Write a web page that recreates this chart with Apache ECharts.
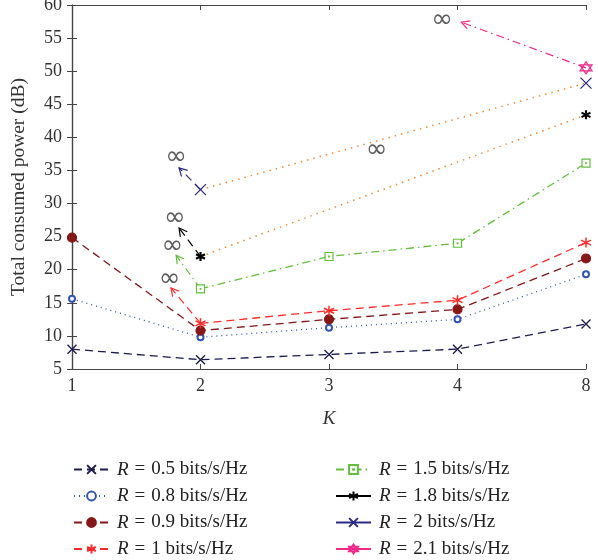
<!DOCTYPE html>
<html>
<head>
<meta charset="utf-8">
<script src="https://cdn.jsdelivr.net/npm/echarts@6/dist/echarts.min.js"></script>
<style>
  html, body { margin: 0; padding: 0; background: #fff; }
  #chart { width: 598px; height: 560px; }
</style>
</head>
<body>
<div id="chart"></div>
<script>
// K values on the x axis (drawn at equal spacing)
const kLabels = ['1', '2', '3', '4', '8'];
const yTicks = [5, 10, 15, 20, 25, 30, 35, 40, 45, 50, 55, 60];

// consumed power per rate, one entry per K (null = infeasible / not drawn)
const rateNames = ['0.5', '0.8', '0.9', '1', '1.5', '1.8', '2', '2.1'];
const r05 = [8.0, 6.4, 7.2, 8.0, 11.8];
const r08 = [15.6, 9.8, 11.25, 12.5, 19.3];
const r09 = [24.85, 10.8, 12.5, 14.0, 21.7];
const r10 = [null, 11.9, 13.8, 15.4, 24.1];
const r15 = [null, 17.1, 22.0, 24.0, 36.1];
const r18 = [null, 22.0, null, null, 43.4];
const r20 = [null, 32.1, null, null, 48.2];
const r21 = [null, null, null, null, 50.5];

// arrows towards "infinite" power: [fromK, fromVal, toK, toVal, series]
const arrows = [
  [1, 32.1, 0.833, 35.4, 6],
  [1, 22.0, 0.833, 26.3, 5],
  [1, 17.1, 0.81, 22.2, 4],
  [1, 11.9, 0.77, 17.25, 3],
  [4, 50.5, 3.03, 57.4, 7]
];
// where the infinity marks sit
const infMarks = [[0.81, 37.0], [0.80, 27.8], [0.78, 23.6], [0.76, 18.6], [2.88, 57.7], [2.37, 38.0]];

const colors = ['#1c1c50', '#3153b5', '#851717', '#ff2a2a', '#63be3c', '#000000', '#2a2a86', '#ef2a8a'];
const orange = '#f28a2e';
const serif = '"Liberation Serif", "DejaVu Serif", serif';

const xMark = 'path://M0,0L10,10M0,10L10,0';
const starMark = 'path://M5,0L5,10M0.7,2.5L9.3,7.5M0.7,7.5L9.3,2.5';
const davidMark = 'path://M5,0L9.33,7.5L0.67,7.5ZM5,10L0.67,2.5L9.33,2.5Z';
const squareMark = 'path://M0,0L10,0L10,10L0,10ZM4.6,4.6L5.4,4.6L5.4,5.4L4.6,5.4Z';

const dashes = {
  dash: [8, 5],
  dot: [1, 4],
  dashdot: [8, 4, 1.5, 4]
};

function pairs(vals) {
  return vals.map((v, i) => [i, v == null ? '-' : v]);
}

function makeSeries(idx, vals, symbol, size, lineType, fill, width) {
  const c = colors[idx];
  return {
    name: rateNames[idx],
    type: 'line',
    data: pairs(vals),
    symbol: symbol,
    symbolSize: size,
    showSymbol: true,
    connectNulls: false,
    animation: false,
    z: 5,
    lineStyle: { color: c, width: 1.3, type: lineType },
    itemStyle: {
      color: fill,
      borderColor: c,
      borderWidth: width || 1.2
    }
  };
}

const clear = 'rgba(255,255,255,0)';
const lineSeries = [
  makeSeries(0, r05, xMark, 9, dashes.dash, clear, 1.4),
  makeSeries(1, r08, 'emptyCircle', 6, dashes.dot, colors[1], 1.3),
  makeSeries(2, r09, 'circle', 9, dashes.dash, colors[2]),
  makeSeries(3, r10, starMark, 10, dashes.dash, clear, 1.5),
  makeSeries(4, r15, squareMark, 8, dashes.dashdot, '#fff', 1.2),
  makeSeries(5, r18, starMark, 9, 'solid', clear, 2.2),
  makeSeries(6, r20, xMark, 11, 'solid', clear, 1.3),
  makeSeries(7, r21, davidMark, 12, 'solid', clear, 1.2)
];

// orange dotted links between the K=2 and K=8 points of R = 1.8 and R = 2
function orangeLink(vals) {
  return {
    type: 'line',
    data: pairs(vals).filter(p => p[1] !== '-'),
    symbol: 'none',
    silent: true,
    animation: false,
    z: 3,
    lineStyle: { color: orange, width: 1.5, type: [1.5, 5] }
  };
}

const arrowDash = [dashes.dash, dashes.dash, dashes.dash, dashes.dash, dashes.dashdot, dashes.dash, dashes.dash, dashes.dashdot];

const arrowSeries = {
  type: 'custom',
  data: arrows,
  silent: true,
  animation: false,
  clip: false,
  z: 4,
  renderItem: function (params, api) {
    const p0 = api.coord([api.value(0), api.value(1)]);
    const p1 = api.coord([api.value(2), api.value(3)]);
    const s = api.value(4);
    const c = colors[s];
    const ang = Math.atan2(p0[1] - p1[1], p0[0] - p1[0]);
    const len = 9, spread = 0.5;
    const h1 = [p1[0] + len * Math.cos(ang + spread), p1[1] + len * Math.sin(ang + spread)];
    const h2 = [p1[0] + len * Math.cos(ang - spread), p1[1] + len * Math.sin(ang - spread)];
    return {
      type: 'group',
      children: [
        { type: 'line', shape: { x1: p0[0], y1: p0[1], x2: p1[0], y2: p1[1] },
          style: { stroke: c, lineWidth: 1.2, lineDash: arrowDash[s] } },
        { type: 'polyline', shape: { points: [h1, p1, h2] },
          style: { stroke: c, lineWidth: 1.2, fill: null } }
      ]
    };
  }
};

const infSeries = {
  type: 'scatter',
  data: infMarks,
  symbolSize: 1,
  silent: true,
  animation: false,
  itemStyle: { color: 'rgba(0,0,0,0)' },
  label: {
    show: true,
    position: 'inside',
    formatter: '\u221e',
    fontFamily: '"DejaVu Sans", sans-serif',
    fontSize: 26,
    color: '#333'
  },
  z: 6
};

function legendCfg(names, left) {
  return {
    data: names,
    orient: 'vertical',
    left: left,
    top: 455,
    height: 200,
    itemWidth: 35,
    itemHeight: 11,
    itemGap: 7.5,
    formatter: n => '{i|R}{e|=}' + n + ' bits/s/Hz',
    textStyle: {
      fontFamily: serif,
      fontSize: 19,
      lineHeight: 17,
      color: '#222',
      padding: [0, 0, 0, 3],
      rich: {
        i: { fontFamily: serif, fontSize: 19, lineHeight: 17, fontStyle: 'italic', color: '#222' },
        e: { fontFamily: serif, fontSize: 19, lineHeight: 17, color: '#222', padding: [0, 6, 0, 6] }
      }
    }
  };
}

const axisLine = { show: true, lineStyle: { color: '#444', width: 1.2 } };
const tickStyle = { inside: true, length: 5, lineStyle: { color: '#444', width: 1 } };
const labelStyle = { fontFamily: serif, fontSize: 18, color: '#333' };

const option = {
  backgroundColor: '#fff',
  animation: false,
  grid: { left: 72, right: 12, top: 5, bottom: 191, containLabel: false, outerBoundsMode: 'none' },
  legend: [
    legendCfg(rateNames.slice(0, 4), 68),
    legendCfg(rateNames.slice(4), 330)
  ],
  xAxis: [
    {
      type: 'value', min: 0, max: 4, interval: 1,
      name: 'K', nameLocation: 'middle', nameGap: 40,
      nameTextStyle: { fontFamily: serif, fontSize: 19, fontStyle: 'italic', color: '#333' },
      axisLine: axisLine, axisTick: tickStyle, splitLine: { show: false },
      axisLabel: Object.assign({ margin: 8, formatter: v => kLabels[v] }, labelStyle)
    },
    {
      type: 'value', min: 0, max: 4, interval: 1, position: 'top',
      axisLine: axisLine, axisTick: tickStyle, splitLine: { show: false },
      axisLabel: { show: false }
    }
  ],
  yAxis: [
    {
      type: 'value', min: yTicks[0], max: yTicks[yTicks.length - 1], interval: 5,
      name: 'Total consumed power (dB)', nameLocation: 'middle', nameGap: 43,
      nameTextStyle: { fontFamily: serif, fontSize: 19.5, color: '#333' },
      axisLine: axisLine, axisTick: tickStyle, splitLine: { show: false },
      axisLabel: Object.assign({ margin: 10 }, labelStyle)
    },
    {
      type: 'value', min: yTicks[0], max: yTicks[yTicks.length - 1], interval: 5, position: 'right',
      axisLine: axisLine, axisTick: tickStyle, splitLine: { show: false },
      axisLabel: { show: false }
    }
  ],
  series: [
    orangeLink(r18),
    orangeLink(r20),
    arrowSeries,
    infSeries
  ].concat(lineSeries)
};

const myChart = echarts.init(document.getElementById('chart'), null, { renderer: 'canvas' });
myChart.setOption(option);
</script>
</body>
</html>
